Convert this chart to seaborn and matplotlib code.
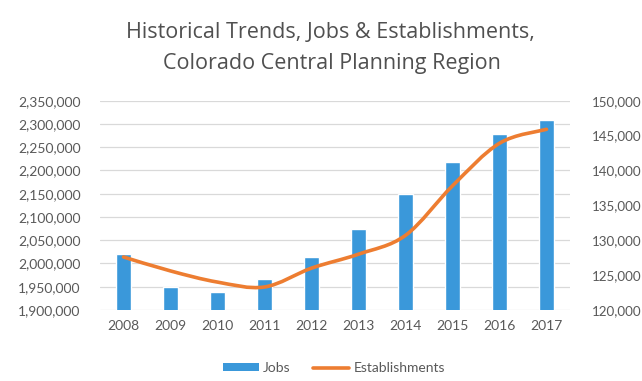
import numpy as np
import pandas as pd
import matplotlib
matplotlib.use("Agg")
import matplotlib.pyplot as plt
from matplotlib.path import Path
from matplotlib.patches import PathPatch, Patch
from matplotlib.lines import Line2D
from matplotlib.ticker import FuncFormatter
import seaborn as sns

years = ["2008", "2009", "2010", "2011", "2012", "2013", "2014", "2015", "2016", "2017"]
jobs = [2020000, 1949000, 1938000, 1967000, 2015000, 2075000, 2149000, 2218000, 2279000, 2308000]
establishments = [127600, 125600, 124000, 123300, 126000, 128000, 130700, 137800, 143900, 145900]

left_ticks = [1900000, 1950000, 2000000, 2050000, 2100000, 2150000, 2200000, 2250000, 2300000, 2350000]
right_ticks = [120000, 125000, 130000, 135000, 140000, 145000, 150000]

BLUE = "#3a98da"
ORANGE = "#ed7d31"
GRID = "#d9d9d9"
TEXT = "#595959"

sns.set_theme(style="white")
plt.rcParams["font.family"] = ["Lato", "DejaVu Sans"]

df = pd.DataFrame({"Year": years, "Jobs": jobs, "Establishments": establishments})

fig = plt.figure(figsize=(6.42, 3.81), dpi=100)
ax = fig.add_axes([100 / 642, 1 - 310 / 381, 470 / 642, (310 - 100.7) / 381])

sns.barplot(data=df, x="Year", y="Jobs", color=BLUE, width=0.32,
            saturation=1, ax=ax, zorder=2)
ax.set_ylim(left_ticks[0], left_ticks[-1])
ax.set_yticks(left_ticks)
ax.set_xlim(-0.5, len(years) - 0.5)
ax.yaxis.set_major_formatter(FuncFormatter(lambda v, p: f"{int(v):,}"))
ax.grid(axis="y", color=GRID, linewidth=0.9, zorder=0)
ax.set_axisbelow(True)
ax.set_xlabel("")
ax.set_ylabel("")
for s in ax.spines.values():
    s.set_visible(False)
ax.tick_params(axis="both", length=0, colors=TEXT, labelsize=10)
ax.tick_params(axis="y", pad=14)
ax.tick_params(axis="x", pad=7)

ax2 = ax.twinx()
ax2.set_ylim(right_ticks[0], right_ticks[-1])
ax2.set_yticks(right_ticks)
ax2.yaxis.set_major_formatter(FuncFormatter(lambda v, p: f"{int(v):,}"))
ax2.tick_params(axis="y", length=0, colors=TEXT, labelsize=9.6, pad=16)
for s in ax2.spines.values():
    s.set_visible(False)
ax2.grid(False)

# smoothed establishments curve (Catmull-Rom as cubic Bezier segments)
xs = np.arange(len(years), dtype=float)
ys = np.asarray(establishments, dtype=float)
pts = np.column_stack([xs, ys])
ext = np.vstack([pts[0], pts, pts[-1]])
verts = [tuple(pts[0])]
codes = [Path.MOVETO]
for i in range(len(pts) - 1):
    p0, p1, p2, p3 = ext[i], ext[i + 1], ext[i + 2], ext[i + 3]
    c1 = p1 + (p2 - p0) / 6.0
    c2 = p2 - (p3 - p1) / 6.0
    verts += [tuple(c1), tuple(c2), tuple(p2)]
    codes += [Path.CURVE4] * 3
ax2.add_patch(PathPatch(Path(verts, codes), facecolor="none", edgecolor=ORANGE,
                        linewidth=2.6, capstyle="round", joinstyle="round", zorder=3))

title_font = dict(ha="center", va="center", fontsize=15.5, color="#505050",
                  family=["Open Sans", "DejaVu Sans"])
fig.text(330 / 642, 1 - 32 / 381, "Historical Trends, Jobs & Establishments,", **title_font)
fig.text(332 / 642, 1 - 63 / 381, "Colorado Central Planning Region", **title_font)

handles = [Patch(facecolor=BLUE, edgecolor="none"),
           Line2D([0], [0], color=ORANGE, linewidth=2.6)]
fig.legend(handles, ["Jobs", "Establishments"], loc="center",
           bbox_to_anchor=(0.52, 1 - 368 / 381), ncol=2, frameon=False,
           fontsize=10, labelcolor=TEXT, handlelength=2.6, handleheight=0.5,
           columnspacing=1.6, handletextpad=0.3)

fig.savefig("out.png", dpi=100, facecolor="white")
